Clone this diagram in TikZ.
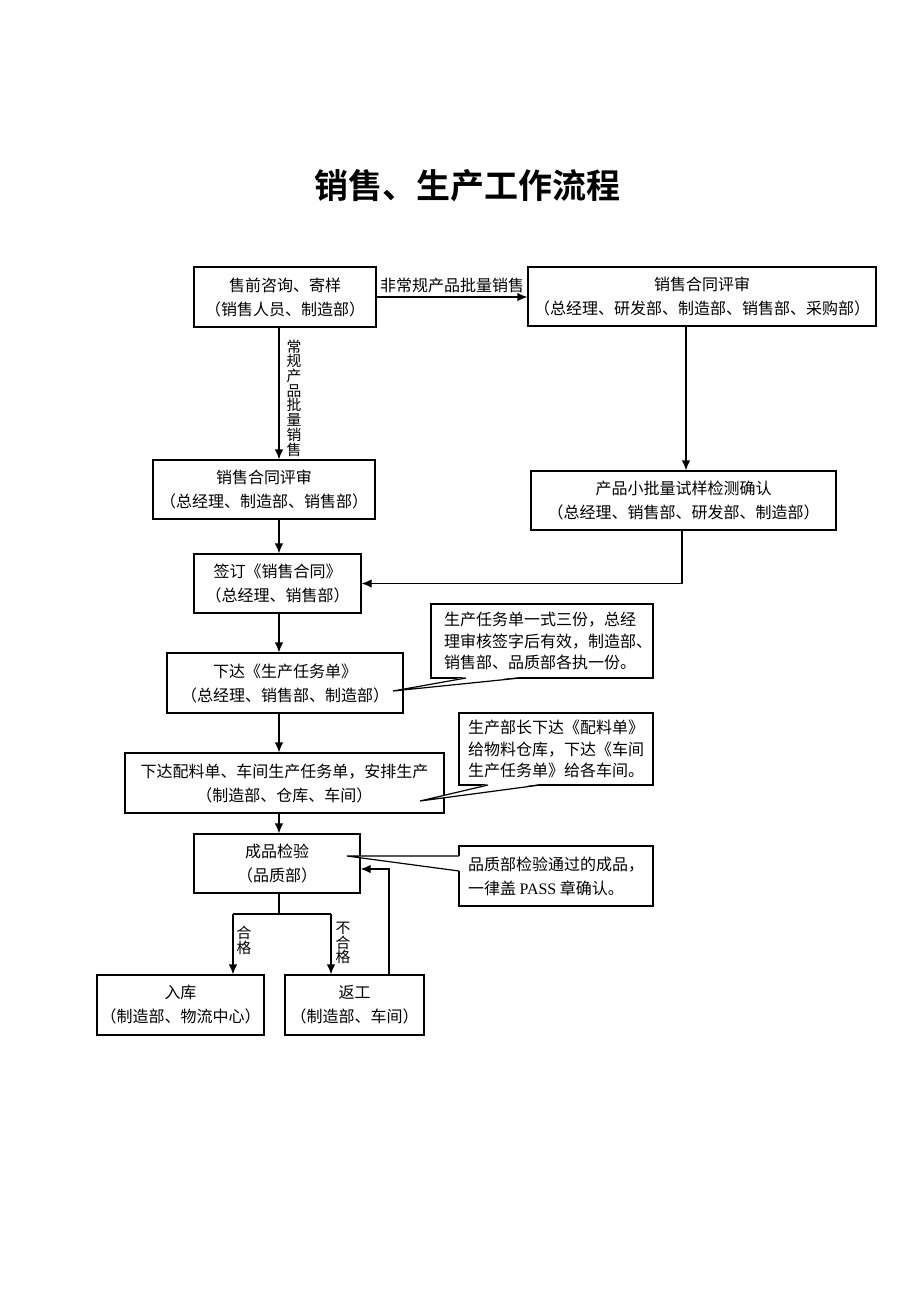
\documentclass[tikz,border=0pt]{standalone}
\usepackage{fontspec}
\setmainfont{Noto Sans CJK SC}[BoldFont={Noto Sans CJK SC Bold}]
\newfontfamily\latinfont{Liberation Serif}
\usepackage{tikz}
\usetikzlibrary{calc,positioning,arrows,arrows.meta}
\tikzset{
	>={Latex[length=5pt,width=4.2pt]},
	stepbox/.style={
		rectangle,
		draw=black, line width=0.6pt,
		fill=white,
		inner sep=0pt,
		align=center,
		font={\fontsize{8pt}{12pt}\selectfont}
	},
	notebox/.style={
		rectangle,
		draw=black, line width=0.6pt,
		fill=white,
		inner sep=0pt,
		font={\fontsize{8pt}{10.8pt}\selectfont}
	},
	line/.style={draw, line width=0.6pt},
	vlabel/.style={align=center, inner sep=0pt,
		font={\fontsize{7.4pt}{7.35pt}\selectfont}},
	hlabel/.style={inner sep=0pt, font={\fontsize{8pt}{10pt}\selectfont}},
}

\begin{document}
\begin{tikzpicture}[x=0.5pt,y=-0.5pt]
	\useasboundingbox (0,0) rectangle (920,1302);
	% title
	\node[font={\fontsize{17pt}{20pt}\selectfont\bfseries}] (title) at (467,186) {销售、生产工作流程};
	% main boxes
	\node[stepbox, minimum width=91pt, minimum height=30pt] (ask) at (285,297)
		{售前咨询、寄样\\（销售人员、制造部）};
	\node[stepbox, minimum width=174pt, minimum height=29.5pt] (rev2) at (702,296.5)
		{销售合同评审\\（总经理、研发部、制造部、销售部、采购部）};
	\node[stepbox, minimum width=111pt, minimum height=29.5pt] (rev1) at (264,489.5)
		{销售合同评审\\（总经理、制造部、销售部）};
	\node[stepbox, minimum width=152.5pt, minimum height=29.5pt] (test) at (683.5,500.5)
		{产品小批量试样检测确认\\（总经理、销售部、研发部、制造部）};
	\node[stepbox, minimum width=83.5pt, minimum height=29.5pt] (sign) at (277.5,583.5)
		{签订《销售合同》\\（总经理、销售部）};
	\node[stepbox, minimum width=118pt, minimum height=30pt] (task) at (285,683)
		{下达《生产任务单》\\（总经理、销售部、制造部）};
	\node[stepbox, minimum width=159.5pt, minimum height=30pt] (plan) at (284.5,783)
		{下达配料单、车间生产任务单，安排生产\\（制造部、仓库、车间）};
	\node[stepbox, minimum width=83pt, minimum height=29.5pt] (check) at (277,863.5)
		{成品检验\\（品质部）};
	\node[stepbox, minimum width=83.5pt, minimum height=30pt] (store) at (180.5,1005)
		{入库\\（制造部、物流中心）};
	\node[stepbox, minimum width=69.5pt, minimum height=30pt] (redo) at (354.5,1005)
		{返工\\（制造部、车间）};

	% helper coordinates
	\coordinate (spine) at (279,0);
	\coordinate (rcol) at (686,0);
	\coordinate (rcol2) at (682,0);
	\coordinate (okx) at (233,914);
	\coordinate (ngx) at (331,914);
	\coordinate (back) at (389,869);

	% connectors
	\draw[line,->] (ask.east) -- (ask.east -| rev2.west)
		node[hlabel, midway, above=2pt] (lnon) {非常规产品批量销售};
	\draw[line,->] (ask.south -| spine) -- (rev1.north -| spine);
	\node[vlabel] (lreg) at (294,398) {常\\规\\产\\品\\批\\量\\销\\售};
	\draw[line,->] (rev2.south -| rcol) -- (test.north -| rcol);
	\draw[line,->] (test.south -| rcol2) |- (sign.east);
	\draw[line,->] (rev1.south -| spine) -- (sign.north -| spine);
	\draw[line,->] (sign.south -| spine) -- (task.north -| spine);
	\draw[line,->] (task.south -| spine) -- (plan.north -| spine);
	\draw[line,->] (plan.south -| spine) -- (check.north -| spine);
	\draw[line] (check.south -| spine) -- (okx -| spine);
	\draw[line] (okx) -- (ngx);
	\draw[line,->] (okx) -- (store.north -| okx);
	\draw[line,->] (ngx) -- (redo.north -| ngx);
	\node[vlabel] (lok) at (244,940) {合\\格};
	\node[vlabel] (lng) at (343,943) {不\\合\\格};
	\draw[line,->] (redo.north -| back) |- (check.east |- back);

	% notes
	\node[notebox, minimum width=111pt, minimum height=37pt, text width=98pt, align=left] (note1) at (542,641)
		{生产任务单一式三份，总经\\理审核签字后有效，制造部、\\销售部、品质部各执一份。};
	\node[notebox, minimum width=97pt, minimum height=36pt, align=center] (note2) at (556,749)
		{生产部长下达《配料单》\\给物料仓库，下达《车间\\生产任务单》给各车间。};
	\node[notebox, minimum width=97pt, minimum height=30pt, align=left,
		font={\fontsize{8pt}{12pt}\selectfont}] (note3) at (556,876)
		{品质部检验通过的成品，\\一律盖 {\latinfont PASS} 章确认。};

	% note pointers
	\coordinate (t1) at (393,691);
	\coordinate (t2) at (420,801);
	\coordinate (t3) at (347,856);
	\fill[white] (466,677) -- (t1) -- (520,677) -- cycle;
	\draw[line] (466,678) -- (t1) -- (520,678);
	\fill[white] (488,784) -- (t2) -- (540,784) -- cycle;
	\draw[line] (488,785) -- (t2) -- (540,785);
	\fill[white] (460,856) -- (t3) -- (460,871) -- cycle;
	\draw[line] (459,856) -- (t3) -- (459,871);
\end{tikzpicture}
\end{document}
